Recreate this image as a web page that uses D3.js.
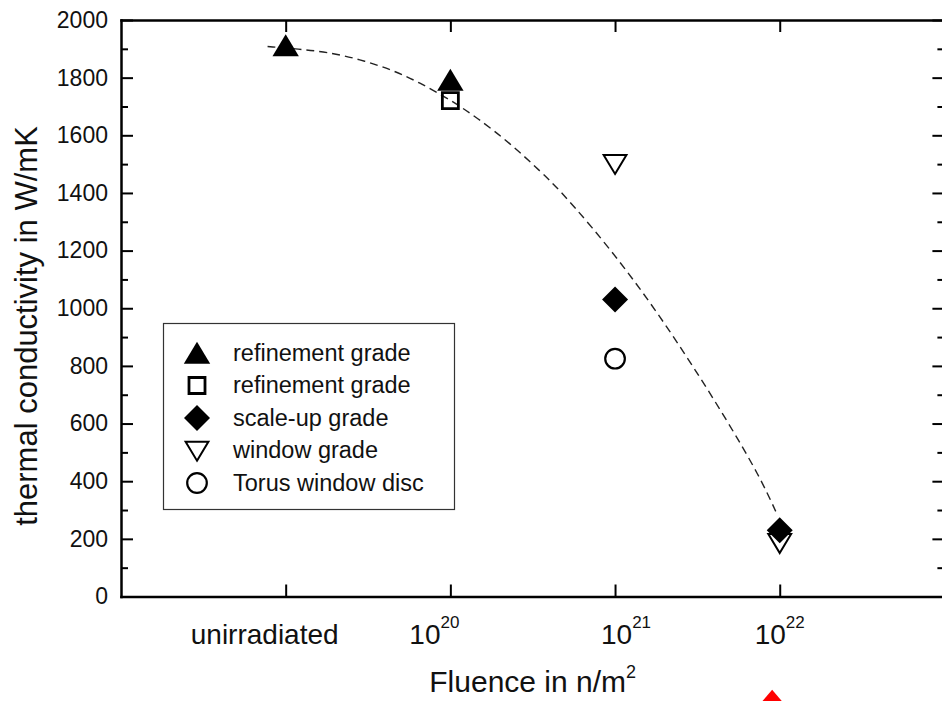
<!DOCTYPE html>
<html>
<head>
<meta charset="utf-8">
<script src="https://cdn.jsdelivr.net/npm/d3@7"></script>
<style>
  html, body { margin: 0; padding: 0; background: #fff; }
  svg { display: block; font-family: "Liberation Sans", Arial, Helvetica, sans-serif; }
</style>
</head>
<body>
<svg id="chart" width="942" height="701"></svg>
<script>
// ---- data -------------------------------------------------------------
// Fluence categories, positioned by index 0..3 on the x axis
const fluenceBase = ["unirradiated", "10", "10", "10"];
const fluenceExp  = ["", "20", "21", "22"];
const fluenceIndex = [0, 1, 2, 3];

// y axis ticks (W/mK)
const yMajorTicks = [0, 200, 400, 600, 800, 1000, 1200, 1400, 1600, 1800, 2000];
const yMinorTicks = [100, 300, 500, 700, 900, 1100, 1300, 1500, 1700, 1900];

// measured thermal conductivity, W/mK
const refinementTriangle = [{ i: 0, k: 1900 }, { i: 1, k: 1780 }];
const refinementSquare   = [{ i: 1, k: 1720 }];
const windowGrade        = [{ i: 2, k: 1510 }, { i: 3, k: 195 }];
const scaleUpGrade       = [{ i: 2, k: 1030 }, { i: 3, k: 230 }];
const torusWindowDisc    = [{ i: 2, k: 825 }];

// stray red marker sitting below the axis title
const redMarker = [{ i: 2.954, k: -370 }];

// dashed trend line through the data
const trendIndex = [-0.11, 0.08, 0.25, 0.45, 0.65, 0.81, 1.00, 1.16, 1.36, 1.56, 1.66, 1.86, 2.07, 2.27, 2.47, 2.68, 2.88, 2.98];
const trendK     = [1908, 1899, 1889, 1864, 1826, 1784, 1723, 1662, 1574, 1468, 1412, 1282, 1132, 974, 802, 611, 415, 290];

const legendLabels = ["refinement grade", "refinement grade", "scale-up grade", "window grade", "Torus window disc"];

// ---- marker shapes -----------------------------------------------------
const triUp = { draw(c, h) { const w = h * 1.2; c.moveTo(0, -2 * h / 3); c.lineTo(w / 2, h / 3); c.lineTo(-w / 2, h / 3); c.closePath(); } };
const triDown = { draw(c, h) { const w = h * 1.2; c.moveTo(0, 2 * h / 3); c.lineTo(w / 2, -h / 3); c.lineTo(-w / 2, -h / 3); c.closePath(); } };
const triWide = { draw(c, h) { const w = h * 1.72; c.moveTo(0, -2 * h / 3); c.lineTo(w / 2, h / 3); c.lineTo(-w / 2, h / 3); c.closePath(); } };
const square = { draw(c, s) { const r = s / 2; c.moveTo(-r, -r); c.lineTo(r, -r); c.lineTo(r, r); c.lineTo(-r, r); c.closePath(); } };
const diamond = { draw(c, s) { c.moveTo(0, -s); c.lineTo(s, 0); c.lineTo(0, s); c.lineTo(-s, 0); c.closePath(); } };
const circle = { draw(c, r) { c.moveTo(r, 0); c.arc(0, 0, r, 0, 2 * Math.PI); } };

const series = [
  { data: refinementTriangle, type: triUp,   size: 22, fill: "#000", stroke: "none", sw: 0,   legend: 0 },
  { data: refinementSquare,   type: square,  size: 16, fill: "none", stroke: "#000", sw: 2.8, legend: 1 },
  { data: windowGrade,        type: triDown, size: 19, fill: "#fff", stroke: "#000", sw: 2,   legend: 3 },
  { data: scaleUpGrade,       type: diamond, size: 13, fill: "#000", stroke: "none", sw: 0,   legend: 2 },
  { data: torusWindowDisc,    type: circle,  size: 9.8, fill: "none", stroke: "#000", sw: 2.2, legend: 4 }
];

// ---- layout ------------------------------------------------------------
const svg = d3.select("#chart");
svg.append("rect").attr("width", 942).attr("height", 701).attr("fill", "#fff");

const x = d3.scaleLinear().domain([-1, 4]).range([121, 944.4]);
const y = d3.scaleLinear().domain([0, 2000]).range([596.5, 20]);

function styleAxis(g, fontSize) {
  g.attr("font-family", null).attr("font-size", fontSize);
  g.select(".domain").attr("stroke", "#000").attr("stroke-width", 2.5).attr("stroke-linecap", "square");
  g.selectAll(".tick line").attr("stroke", "#000").attr("stroke-width", 2);
  g.selectAll(".tick text").attr("fill", "#111");
}

// left axis with labels
svg.append("g").attr("transform", `translate(${x(-1)},0)`)
  .call(d3.axisLeft(y).tickValues(yMajorTicks).tickSize(-12).tickSizeOuter(0).tickPadding(13).tickFormat(d3.format("d")))
  .call(g => styleAxis(g, 23));
svg.append("g").attr("transform", `translate(${x(-1)},0)`)
  .call(d3.axisLeft(y).tickValues(yMinorTicks).tickSize(-7).tickFormat(""))
  .call(g => { styleAxis(g, 23); g.select(".domain").remove(); });

// right axis (ticks only)
svg.append("g").attr("transform", `translate(${x(4)},0)`)
  .call(d3.axisRight(y).tickValues(yMajorTicks).tickSize(-12).tickSizeOuter(0).tickFormat(""))
  .call(g => styleAxis(g, 23));
svg.append("g").attr("transform", `translate(${x(4)},0)`)
  .call(d3.axisRight(y).tickValues(yMinorTicks).tickSize(-7).tickFormat(""))
  .call(g => { styleAxis(g, 23); g.select(".domain").remove(); });

// top and bottom axes
svg.append("g").attr("transform", `translate(0,${y(2000)})`)
  .call(d3.axisTop(x).tickValues(fluenceIndex).tickSize(-12).tickSizeOuter(0).tickFormat(""))
  .call(g => styleAxis(g, 23));
svg.append("g").attr("transform", `translate(0,${y(0)})`)
  .call(d3.axisBottom(x).tickValues(fluenceIndex).tickSize(-12).tickSizeOuter(0).tickFormat(""))
  .call(g => styleAxis(g, 23));

// category labels under the x axis
const labelNudge = [-21, -16, 11, 0];
const xLabels = svg.append("g").attr("fill", "#111").attr("text-anchor", "middle");
fluenceIndex.forEach((idx, n) => {
  const t = xLabels.append("text")
    .attr("x", x(idx) + labelNudge[n])
    .attr("y", y(0) + 47.5)
    .attr("font-size", 28)
    .text(fluenceBase[n]);
  if (fluenceExp[n]) {
    t.append("tspan").attr("font-size", 17).attr("dy", -16).text(fluenceExp[n]);
  }
});

// axis titles
const xTitle = svg.append("text")
  .attr("x", (x(-1) + x(4)) / 2)
  .attr("y", 692)
  .attr("text-anchor", "middle")
  .attr("font-size", 30)
  .attr("fill", "#111")
  .text("Fluence in n/m");
xTitle.append("tspan").attr("font-size", 18).attr("dy", -14).text("2");

svg.append("text")
  .attr("transform", "translate(37,326) rotate(-90)")
  .attr("text-anchor", "middle")
  .attr("font-size", 31)
  .attr("fill", "#111")
  .text("thermal conductivity in W/mK");

// dashed trend line
const trend = trendIndex.map((t, n) => [t, trendK[n]]);
svg.append("path")
  .datum(trend)
  .attr("fill", "none")
  .attr("stroke", "#222")
  .attr("stroke-width", 1.4)
  .attr("stroke-dasharray", "8,5")
  .attr("d", d3.line().x(d => x(d[0])).y(d => y(d[1])).curve(d3.curveBasis));

// data markers
series.forEach(s => {
  svg.append("g").selectAll("path")
    .data(s.data)
    .join("path")
    .attr("transform", d => `translate(${x(d.i)},${y(d.k)})`)
    .attr("d", d3.symbol().type(s.type).size(s.size))
    .attr("fill", s.fill)
    .attr("stroke", s.stroke)
    .attr("stroke-width", s.sw)
    .attr("stroke-linejoin", "miter");
});

svg.append("g").selectAll("path")
  .data(redMarker)
  .join("path")
  .attr("transform", d => `translate(${x(d.i)},${y(d.k)})`)
  .attr("d", d3.symbol().type(triWide).size(20))
  .attr("fill", "#ff0000");

// legend
const legend = svg.append("g").attr("transform", "translate(163,323)");
legend.append("rect")
  .attr("x", 0.5).attr("y", 0.5)
  .attr("width", 291).attr("height", 186)
  .attr("fill", "#fff")
  .attr("stroke", "#333")
  .attr("stroke-width", 1.2);

const legendOrder = [0, 1, 3, 2, 4];
legendLabels.forEach((label, row) => {
  const s = series[legendOrder[row]];
  const cy = 30 + row * 32.5;
  const rowY = s.type === triUp ? cy + 3.5 : (s.type === triDown ? cy - 2.5 : cy);
  legend.append("path")
    .attr("transform", `translate(34,${rowY})`)
    .attr("d", d3.symbol().type(s.type).size(s.size))
    .attr("fill", s.fill)
    .attr("stroke", s.stroke)
    .attr("stroke-width", s.sw);
  legend.append("text")
    .attr("x", 70)
    .attr("y", cy)
    .attr("dy", "0.33em")
    .attr("font-size", 23.5)
    .attr("fill", "#111")
    .text(label);
});
</script>
</body>
</html>
